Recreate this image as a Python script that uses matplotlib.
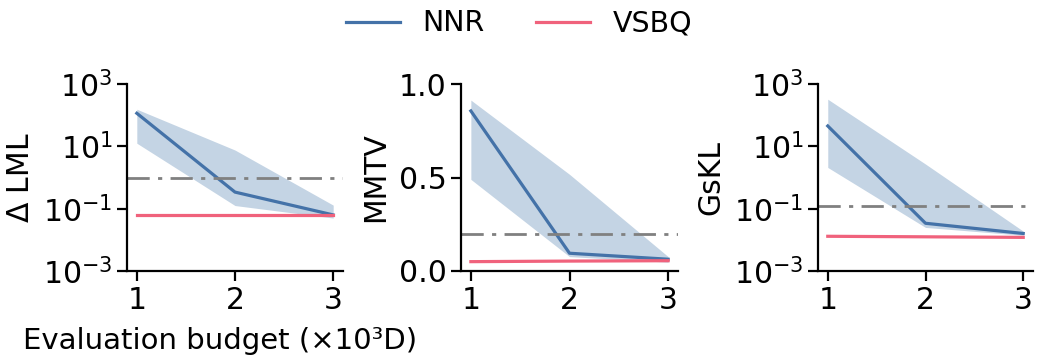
import numpy as np
import matplotlib
matplotlib.use('Agg')
import matplotlib.pyplot as plt

budget = [1, 2, 3]

# Delta LML
lml_nnr = [115, 0.34, 0.063]
lml_nnr_lo = [12.6, 0.126, 0.05]
lml_nnr_hi = [155, 7.6, 0.13]
lml_vsbq = [0.063, 0.063, 0.063]
lml_vsbq_lo = [0.058, 0.057, 0.058]
lml_vsbq_hi = [0.069, 0.070, 0.069]
lml_thresh = 1.0

# MMTV
mmtv_nnr = [0.856, 0.095, 0.063]
mmtv_nnr_lo = [0.49, 0.077, 0.047]
mmtv_nnr_hi = [0.914, 0.517, 0.077]
mmtv_vsbq = [0.050, 0.053, 0.055]
mmtv_thresh = 0.2

# GsKL
gskl_nnr = [45, 0.034, 0.016]
gskl_nnr_lo = [2.1, 0.025, 0.014]
gskl_nnr_hi = [325, 2.7, 0.019]
gskl_vsbq = [0.013, 0.0125, 0.012]
gskl_thresh = 0.125

c_nnr = '#4472a8'
c_vsbq = '#f0627c'
c_band = '#c4d4e4'
fs = 21.5

plt.rcParams['font.family'] = ['DejaVu Sans']
plt.rcParams['font.size'] = fs

fig = plt.figure(figsize=(10.38, 3.59), dpi=100)
W, H = 1038., 359.
boxes = [(127, 343), (461, 678), (818, 1033)]
axes = []
for (l, r) in boxes:
    ax = fig.add_axes([l / W, 1 - 271 / H, (r - l) / W, (271 - 84) / H])
    axes.append(ax)

panels = [
    (lml_nnr, lml_nnr_lo, lml_nnr_hi, lml_vsbq, lml_thresh, r'$\Delta$ LML', True),
    (mmtv_nnr, mmtv_nnr_lo, mmtv_nnr_hi, mmtv_vsbq, mmtv_thresh, 'MMTV', False),
    (gskl_nnr, gskl_nnr_lo, gskl_nnr_hi, gskl_vsbq, gskl_thresh, 'GsKL', True),
]

for i, (ax, p) in enumerate(zip(axes, panels)):
    nnr, lo, hi, vsbq, thr, lab, logy = p
    ax.fill_between(budget, lo, hi, color=c_band, lw=0)
    if i == 0:
        ax.fill_between(budget, lml_vsbq_lo, lml_vsbq_hi, color='#f7c0ca', lw=0)
    l1, = ax.plot(budget, nnr, color=c_nnr, lw=2.3, label='NNR')
    l2, = ax.plot(budget, vsbq, color=c_vsbq, lw=2.3, label='VSBQ')
    ax.axhline(thr, color='gray', lw=2, dashes=(8, 3, 1.5, 3))
    if logy:
        ax.set_yscale('log')
        ax.set_ylim(1e-3, 1e3)
        ax.set_yticks([1e-3, 1e-1, 1e1, 1e3])
        ax.minorticks_off()
    else:
        ax.set_ylim(0, 1)
        ax.set_yticks([0, 0.5, 1.0])
        ax.set_yticklabels(['0.0', '0.5', '1.0'])
    ax.set_xlim(0.9, 3.1)
    ax.set_xticks(budget)
    ax.set_ylabel(lab, fontsize=fs, labelpad=6)
    ax.spines['top'].set_visible(False)
    ax.spines['right'].set_visible(False)
    for s in ['left', 'bottom']:
        ax.spines[s].set_linewidth(1.6)
    ax.tick_params(width=1.6, length=7, labelsize=fs)

axes[0].set_xlabel('Evaluation budget (×10³D)', fontsize=21)
axes[0].xaxis.set_label_coords(0.43, -0.3)

fig.legend([l1, l2], ['NNR', 'VSBQ'], loc='upper center', bbox_to_anchor=(0.5, 1.045),
           ncol=2, frameon=False, fontsize=20.5, handlelength=1.9, columnspacing=1.8)

fig.savefig('out.png', dpi=100)
